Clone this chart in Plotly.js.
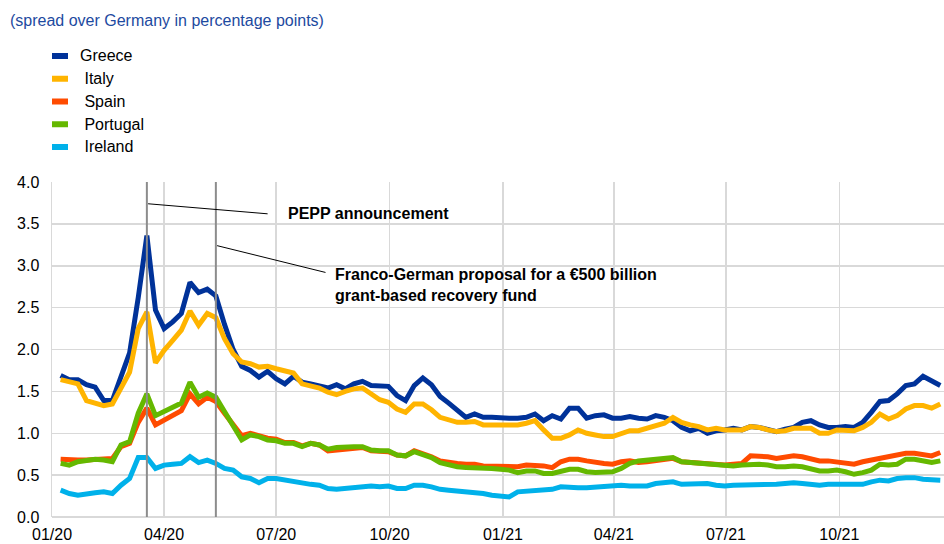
<!DOCTYPE html>
<html>
<head>
<meta charset="utf-8">
<script src="https://cdn.plot.ly/plotly-3.0.1.min.js"></script>
<style>html,body{margin:0;padding:0;background:#fff;}#chart{width:944px;height:544px;}</style>
</head>
<body>
<div id="chart"></div>
<script>
const dates = [
'2020-01-08','2020-01-15','2020-01-22','2020-01-29',
'2020-02-05','2020-02-12','2020-02-19','2020-02-26',
'2020-03-04','2020-03-11','2020-03-18','2020-03-25',
'2020-04-01','2020-04-08','2020-04-15','2020-04-22','2020-04-29',
'2020-05-06','2020-05-13','2020-05-20','2020-05-27',
'2020-06-03','2020-06-10','2020-06-17','2020-06-24',
'2020-07-01','2020-07-08','2020-07-15','2020-07-22','2020-07-29',
'2020-08-05','2020-08-12','2020-08-19','2020-08-26',
'2020-09-02','2020-09-09','2020-09-16','2020-09-23','2020-09-30',
'2020-10-07','2020-10-14','2020-10-21','2020-10-28',
'2020-11-04','2020-11-11','2020-11-18','2020-11-25',
'2020-12-02','2020-12-09','2020-12-16','2020-12-23','2020-12-30',
'2021-01-06','2021-01-13','2021-01-20','2021-01-27',
'2021-02-03','2021-02-10','2021-02-17','2021-02-24',
'2021-03-03','2021-03-10','2021-03-17','2021-03-24','2021-03-31',
'2021-04-07','2021-04-14','2021-04-21','2021-04-28',
'2021-05-05','2021-05-12','2021-05-19','2021-05-26',
'2021-06-02','2021-06-09','2021-06-16','2021-06-23','2021-06-30',
'2021-07-07','2021-07-14','2021-07-21','2021-07-28',
'2021-08-04','2021-08-11','2021-08-18','2021-08-25',
'2021-09-01','2021-09-08','2021-09-15','2021-09-22','2021-09-29',
'2021-10-06','2021-10-13','2021-10-20','2021-10-27',
'2021-11-03','2021-11-10','2021-11-17','2021-11-24',
'2021-12-01','2021-12-08','2021-12-15','2021-12-22'
];

const greece = [
1.69,1.64,1.64,1.58,1.55,1.39,1.39,1.67,1.96,2.62,
3.36,2.47,2.25,2.33,2.43,2.80,2.68,2.72,2.64,2.30,
2.00,1.80,1.75,1.67,1.74,1.65,1.59,1.68,1.61,1.59,
1.57,1.54,1.58,1.53,1.59,1.62,1.57,1.56,1.56,1.45,
1.39,1.57,1.66,1.58,1.44,1.36,1.27,1.19,1.23,1.19,
1.19,1.18,1.18,1.18,1.19,1.23,1.15,1.21,1.17,1.30,
1.30,1.18,1.21,1.22,1.18,1.18,1.20,1.18,1.17,1.21,
1.19,1.15,1.07,1.03,1.06,1.00,1.03,1.04,1.06,1.04,
1.08,1.07,1.04,1.02,1.05,1.07,1.13,1.15,1.10,1.07,
1.07,1.08,1.07,1.13,1.25,1.38,1.39,1.47,1.57,1.59,
1.68,1.63,1.57
];
const italy = [
1.64,1.62,1.59,1.39,1.36,1.33,1.35,1.55,1.73,2.25,
2.45,1.84,1.99,2.11,2.23,2.46,2.29,2.43,2.38,2.13,
1.95,1.85,1.83,1.79,1.80,1.77,1.74,1.72,1.59,1.57,
1.54,1.49,1.46,1.50,1.53,1.54,1.47,1.40,1.37,1.29,
1.25,1.35,1.35,1.28,1.19,1.16,1.13,1.13,1.14,1.10,
1.10,1.10,1.09,1.10,1.12,1.15,1.04,0.94,0.94,0.98,
1.04,1.00,0.98,0.96,0.96,1.00,1.03,1.03,1.06,1.08,
1.12,1.19,1.13,1.10,1.08,1.04,1.06,1.04,1.04,1.04,
1.08,1.07,1.04,1.02,1.03,1.06,1.06,1.06,1.00,1.00,
1.04,1.04,1.03,1.07,1.13,1.23,1.17,1.21,1.29,1.33,
1.33,1.30,1.35
];
const spain = [
0.69,0.68,0.68,0.68,0.69,0.70,0.70,0.84,0.88,1.13,
1.30,1.10,1.16,1.21,1.27,1.47,1.35,1.43,1.38,1.24,
1.10,0.97,1.00,0.97,0.94,0.93,0.89,0.89,0.85,0.88,
0.86,0.79,0.80,0.82,0.83,0.83,0.79,0.78,0.78,0.74,
0.73,0.79,0.76,0.72,0.67,0.65,0.64,0.63,0.63,0.61,
0.61,0.61,0.61,0.60,0.62,0.62,0.61,0.59,0.66,0.69,
0.69,0.67,0.65,0.64,0.63,0.66,0.67,0.65,0.66,0.67,
0.69,0.70,0.66,0.65,0.65,0.64,0.62,0.62,0.63,0.64,
0.73,0.73,0.72,0.70,0.72,0.73,0.72,0.69,0.67,0.67,
0.66,0.65,0.63,0.66,0.68,0.71,0.72,0.74,0.76,0.76,
0.74,0.73,0.77
];
const portugal = [
0.64,0.62,0.66,0.67,0.69,0.68,0.66,0.86,0.90,1.24,
1.47,1.21,1.26,1.31,1.36,1.61,1.43,1.48,1.43,1.26,
1.09,0.92,0.98,0.96,0.92,0.91,0.88,0.88,0.84,0.88,
0.86,0.81,0.83,0.84,0.84,0.84,0.80,0.79,0.79,0.74,
0.73,0.78,0.75,0.71,0.65,0.62,0.60,0.59,0.59,0.58,
0.58,0.57,0.56,0.53,0.55,0.55,0.52,0.52,0.55,0.57,
0.57,0.54,0.53,0.53,0.54,0.58,0.64,0.67,0.68,0.69,
0.71,0.71,0.66,0.65,0.65,0.64,0.62,0.61,0.61,0.62,
0.63,0.63,0.62,0.60,0.60,0.61,0.60,0.58,0.55,0.55,
0.56,0.54,0.51,0.53,0.56,0.63,0.62,0.63,0.69,0.69,
0.67,0.65,0.67
];
const ireland = [
0.32,0.28,0.26,0.28,0.29,0.30,0.28,0.38,0.46,0.71,
0.71,0.58,0.62,0.63,0.64,0.72,0.65,0.68,0.64,0.58,
0.56,0.48,0.46,0.41,0.46,0.46,0.44,0.42,0.40,0.39,
0.38,0.34,0.33,0.34,0.35,0.36,0.37,0.36,0.37,0.34,
0.34,0.38,0.38,0.36,0.33,0.32,0.31,0.30,0.30,0.28,
0.26,0.25,0.24,0.30,0.31,0.31,0.32,0.33,0.36,0.35,
0.35,0.35,0.36,0.36,0.37,0.38,0.37,0.37,0.37,0.40,
0.41,0.42,0.39,0.39,0.40,0.40,0.38,0.37,0.38,0.38,
0.39,0.39,0.39,0.39,0.40,0.41,0.40,0.39,0.38,0.39,
0.39,0.38,0.38,0.39,0.42,0.44,0.43,0.46,0.47,0.47,
0.45,0.44,0.44
];

const seriesNames = ['Greece', 'Italy', 'Spain', 'Portugal', 'Ireland'];
const legendLabels = ['Greece', '\u00a0Italy', '\u00a0Spain', '\u00a0Portugal', '\u00a0Ireland'];
const seriesValues = [greece, italy, spain, portugal, ireland];
const seriesColors = ['#003299', '#ffb400', '#ff4b00', '#65b800', '#00b1ea'];

const eventDates = ['2020-03-18', '2020-05-13'];
const eventLabels = ['<b>PEPP announcement</b>', '<b>Franco-German proposal for a €500 billion<br>grant-based recovery fund</b>'];

const yTicks = [0, 0.5, 1, 1.5, 2, 2.5, 3, 3.5, 4];

const FONT = 'Arial, "Liberation Sans", sans-serif';

const traces = seriesNames.map((n, i) => ({
  type: 'scatter', mode: 'lines', name: n,
  x: dates, y: seriesValues[i],
  line: {color: seriesColors[i], width: 5},
  showlegend: false, hoverinfo: 'skip'
}));

// plot area geometry (px) used to place the hand-drawn legend
const plotLeft = 52, plotTop = 182, plotBottom = 517, plotW = 892, plotH = plotBottom - plotTop;
const px2x = p => (p - plotLeft) / plotW;
const py2y = p => (plotBottom - p) / plotH;

const shapes = [];
const annotations = [];

// vertical event lines
eventDates.forEach(d => shapes.push({
  type: 'line', xref: 'x', yref: 'paper', x0: d, x1: d, y0: 0, y1: 1,
  line: {color: '#8c8c8c', width: 2}
}));

// leader lines
shapes.push({type: 'line', xref: 'x', yref: 'y', x0: '2020-03-19', y0: 3.74, x1: '2020-06-24', y1: 3.62, line: {color: '#000', width: 1}});
shapes.push({type: 'line', xref: 'x', yref: 'y', x0: '2020-05-14', y0: 3.24, x1: '2020-08-10', y1: 2.92, line: {color: '#000', width: 1}});

annotations.push({xref: 'x', yref: 'y', x: '2020-07-09', y: 3.62, text: eventLabels[0], showarrow: false,
  xanchor: 'left', yanchor: 'middle', align: 'left', font: {family: FONT, size: 16, color: '#000'}});
annotations.push({xref: 'x', yref: 'y', x: '2020-08-16', y: 2.77, text: eventLabels[1], showarrow: false,
  xanchor: 'left', yanchor: 'middle', align: 'left', font: {family: FONT, size: 16, color: '#000'}});

// manual legend
seriesNames.forEach((n, i) => {
  const cy = 56 + 22.75 * i;
  shapes.push({type: 'line', xref: 'paper', yref: 'paper', x0: px2x(52), x1: px2x(68), y0: py2y(cy), y1: py2y(cy),
    line: {color: seriesColors[i], width: 6}});
  annotations.push({xref: 'paper', yref: 'paper', x: px2x(78), y: py2y(cy), text: legendLabels[i], showarrow: false,
    xanchor: 'left', yanchor: 'middle', font: {family: FONT, size: 16, color: '#000'}});
});

const layout = {
  width: 944, height: 544,
  margin: {l: plotLeft, r: 0, t: plotTop, b: 544 - plotBottom},
  paper_bgcolor: '#fff', plot_bgcolor: '#fff',
  font: {family: FONT, size: 16, color: '#000'},
  title: {text: '(spread over Germany in percentage points)', x: 10/944, xanchor: 'left', xref: 'container',
    y: 1 - 20/544, yanchor: 'middle', yref: 'container', font: {family: FONT, size: 16, color: '#1d4aa0'}},
  xaxis: {
    type: 'date', range: ['2020-01-01', '2021-12-25'],
    tick0: '2020-01-01', dtick: 'M3', tickformat: '%m/%y',
    showgrid: true, gridcolor: '#d9d9d9', gridwidth: 1.5,
    ticks: 'outside', ticklen: 3, tickcolor: 'rgba(0,0,0,0)',
    showline: false, zeroline: false,
    tickfont: {family: FONT, size: 16, color: '#000'}
  },
  yaxis: {
    range: [0, 4], tickvals: yTicks, tickformat: '.1f',
    showgrid: true, gridcolor: '#d9d9d9', gridwidth: 1.5,
    zeroline: true, zerolinecolor: '#d9d9d9', zerolinewidth: 2,
    showline: true, linecolor: '#d9d9d9', linewidth: 1.5,
    ticks: 'outside', ticklen: 8, tickcolor: 'rgba(0,0,0,0)',
    tickfont: {family: FONT, size: 16, color: '#000'}
  },
  shapes: shapes,
  annotations: annotations,
  showlegend: false
};

Plotly.newPlot('chart', traces, layout, {displayModeBar: false, staticPlot: true});
</script>
</body>
</html>
